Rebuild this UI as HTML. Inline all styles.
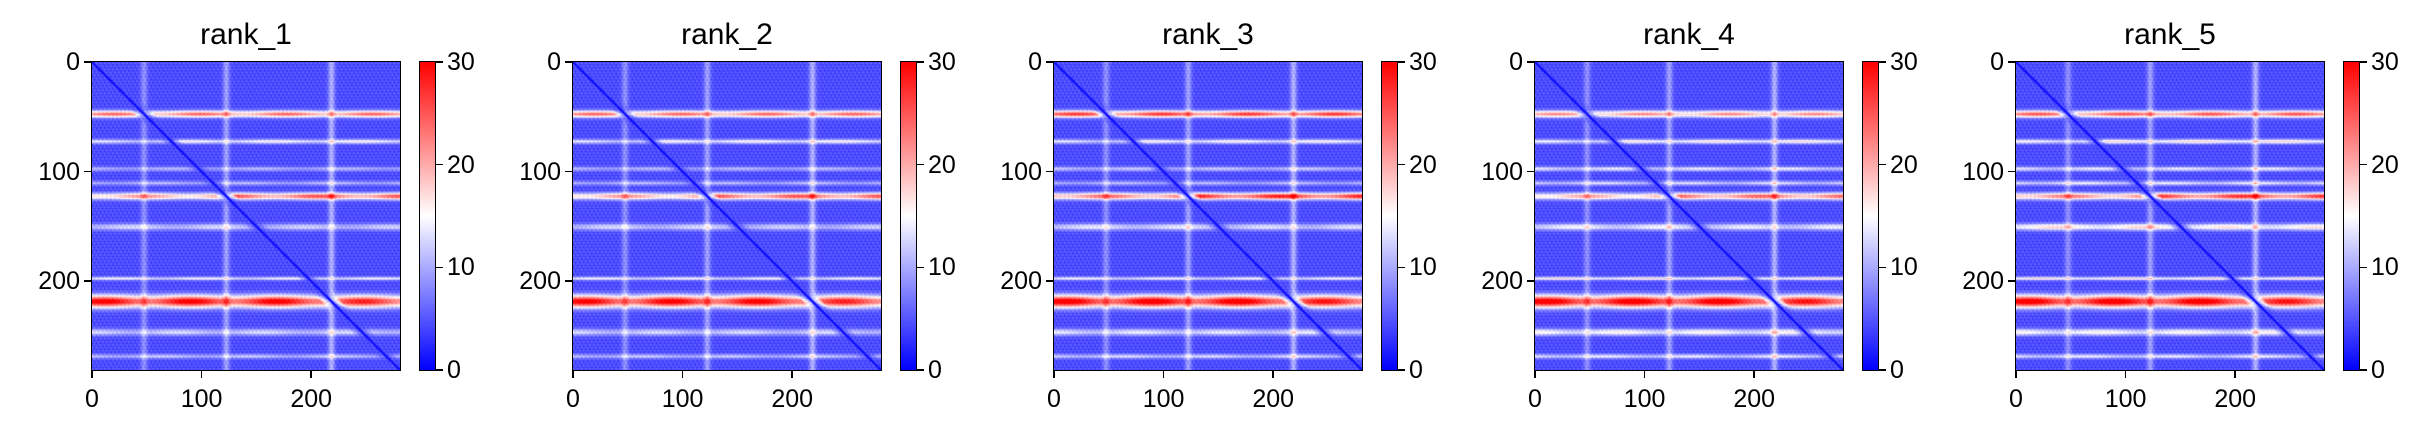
<!DOCTYPE html>
<html><head><meta charset="utf-8"><style>
body{margin:0;width:2434px;height:438px;background:#fff;overflow:hidden;font-family:"Liberation Sans","DejaVu Sans",sans-serif;position:relative;}
.p{position:absolute;top:0;left:0;width:2434px;height:438px;}
canvas{position:absolute;}
.t{position:absolute;font-size:25px;color:#000;white-space:nowrap;line-height:30px;}
.tk{position:absolute;background:#000;}
</style></head><body>
<div id="root"></div>
<script>
const N = 281;
const ranks = ["rank_1","rank_2","rank_3","rank_4","rank_5"];
const bandRows = [47, 72, 97, 110, 122, 150, 197, 218, 246, 268];
const bandWidths = [3, 2, 2, 2, 3, 3, 1.5, 5.5, 3, 2];
const bandPeaks = [
  [24, 15, 11, 11, 25, 13, 15, 30, 13, 12],
  [24, 15, 11, 11, 25, 13, 15, 30, 13, 12],
  [27, 15, 12, 11, 28, 14, 15, 31, 14, 13],
  [22, 16, 14, 13, 24, 15, 17, 31, 16, 14],
  [25, 17, 14, 14, 27, 18, 17, 31, 16, 14]
];
const bandLeft = [1.0, 0.85, 1.0, 1.0, 0.85, 1.0, 1.0, 1.05, 1.0, 1.0];
const bandRight = [1.0, 1.05, 1.0, 1.0, 1.05, 0.95, 1.0, 0.95, 1.0, 1.0];
const stripeCols = [47, 122, 218];
const stripePeaks = [4, 5, 6];
const xTicks = [0, 100, 200];
const yTicks = [0, 100, 200];
const cbTicks = [0, 10, 20, 30];
const VMAX = 30;

function bwr(v){
  let t=Math.max(0,Math.min(1,v/VMAX));
  if(t<0.5){const s=t*2;return [Math.round(255*s),Math.round(255*s),255];}
  const s=(t-0.5)*2;return [255,Math.round(255*(1-s)),Math.round(255*(1-s))];
}
const root=document.getElementById('root');
const X0=92, Y0=62, W=308, DX=481;
function sx(v){return v/N*W;}
ranks.forEach((name,k)=>{
  const ox=X0+k*DX;
  const panel=document.createElement('div');
  panel.className='p';
  
  
  root.appendChild(panel);
  const title=document.createElement('div');
  title.className='t';title.textContent=name;
  title.style.cssText+='font-size:30px;left:'+(ox+W/2)+'px;top:20px;transform:translateX(-50%);';
  
  
  panel.appendChild(title);
  const c=document.createElement('canvas');
  c.width=N;c.height=N;
  c.style.cssText='left:'+ox+'px;top:'+Y0+'px;width:'+W+'px;height:'+W+'px;outline:1.5px solid #000;';
  
  
  panel.appendChild(c);
  const ctx=c.getContext('2d');const img=ctx.createImageData(N,N);
  const peaks=bandPeaks[k];
  for(let i=0;i<N;i++)for(let j=0;j<N;j++){
    const dd=Math.abs(i-j);
    const sup=Math.min(1,dd/10);
    let v=4.5+1.3*Math.sin(i*0.9+j*0.13)*Math.cos(j*1.7)+0.8*Math.sin(i*2.3);
    for(let b=0;b<bandRows.length;b++){
      const d=(i-bandRows[b])/bandWidths[b];
      const m=j<bandRows[b]?bandLeft[b]:bandRight[b];
      v+=(peaks[b]-4.5)*m*Math.exp(-d*d)*(0.85+0.15*Math.sin(j*0.08+b))*sup;
    }
    for(let s=0;s<stripeCols.length;s++){
      const d=(j-stripeCols[s])/3;v+=stripePeaks[s]*Math.exp(-d*d)*sup;
    }
    if(dd<2)v=1;
    const col=bwr(v);const p=(i*N+j)*4;
    img.data[p]=col[0];img.data[p+1]=col[1];img.data[p+2]=col[2];img.data[p+3]=255;
  }
  ctx.putImageData(img,0,0);
  xTicks.forEach(t=>{
    const x=ox+sx(t);
    const tk=document.createElement('div');tk.className='tk';
    tk.style.cssText='left:'+(x-0.75)+'px;top:'+(Y0+W)+'px;width:1.5px;height:8px;';
    
    
    panel.appendChild(tk);
    const l=document.createElement('div');l.className='t';l.textContent=t;
    l.style.cssText+='left:'+x+'px;top:384px;transform:translateX(-50%);';
    
    
    panel.appendChild(l);
  });
  yTicks.forEach(t=>{
    const y=Y0+sx(t);
    const tk=document.createElement('div');tk.className='tk';
    tk.style.cssText='left:'+(ox-8)+'px;top:'+(y-0.75)+'px;width:8px;height:1.5px;';
    
    
    panel.appendChild(tk);
    const l=document.createElement('div');l.className='t';l.textContent=t;
    l.style.cssText+='left:'+(ox-12)+'px;top:'+(y-15)+'px;transform:translateX(-100%);';
    
    
    panel.appendChild(l);
  });
  const cbx=ox+328;
  const cb=document.createElement('div');
  cb.style.cssText='position:absolute;left:'+cbx+'px;top:'+Y0+'px;width:15px;height:'+W+'px;outline:1.5px solid #000;background:linear-gradient(to top,#0000ff,#ffffff,#ff0000);';
  
  
  panel.appendChild(cb);
  cbTicks.forEach(t=>{
    const y=Y0+W-t/VMAX*W;
    const tk=document.createElement('div');tk.className='tk';
    tk.style.cssText='left:'+(cbx+15)+'px;top:'+(y-0.75)+'px;width:8px;height:1.5px;';
    
    
    panel.appendChild(tk);
    const l=document.createElement('div');l.className='t';l.textContent=t;
    l.style.cssText+='left:'+(cbx+27)+'px;top:'+(y-15)+'px;';
    
    
    panel.appendChild(l);
  });
});
</script>
</body></html>
